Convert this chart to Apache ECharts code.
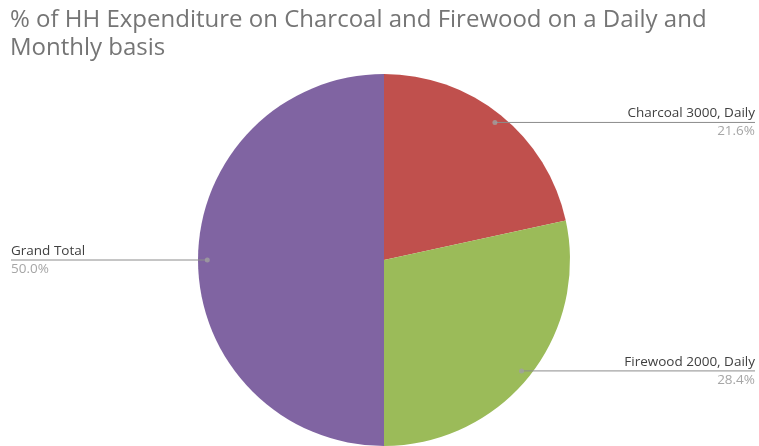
<!DOCTYPE html>
<html><head><meta charset="utf-8">
<script src="https://cdn.jsdelivr.net/npm/echarts@6/dist/echarts.min.js"></script>
<style>html,body{margin:0;padding:0;background:#fff}#c{width:759px;height:446px}</style>
</head><body><div id="c"></div>
<script>
const titleText = "% of HH Expenditure on Charcoal and Firewood on a Daily and\nMonthly basis";
const categories = ["Charcoal 3000, Daily", "Firewood 2000, Daily", "Grand Total"];
const percentValues = [21.6, 28.4, 50.0];
const sliceColors = ["#c0504d", "#9bbb59", "#8064a2"];

const CENTER = [384, 260];
const RADIUS = 186;
const DOT_R = 95; // percent of radius where the leader dot sits

const total = percentValues.reduce((a, b) => a + b, 0);
let cum = 0;
const midAngles = percentValues.map(v => { const m = cum + v / 2; cum += v; return m / total * 100; });

const pieData = categories.map((n, i) => ({ name: n, value: percentValues[i], itemStyle: { color: sliceColors[i] } }));

const chart = echarts.init(document.getElementById('c'), null, { renderer: 'canvas' });
chart.setOption({
  animation: false,
  backgroundColor: '#fff',
  title: {
    text: titleText, left: 5, top: 1,
    textStyle: { fontFamily: 'Open Sans', fontSize: 24, fontWeight: 'normal', color: '#757575', lineHeight: 28 }
  },
  polar: { center: CENTER, radius: RADIUS },
  angleAxis: { type: 'value', min: 0, max: 100, startAngle: 90, clockwise: true, show: false },
  radiusAxis: { type: 'value', min: 0, max: 100, show: false },
  series: [
    {
      type: 'pie', center: CENTER, radius: RADIUS, startAngle: 90, clockwise: true,
      silent: true, label: { show: false }, labelLine: { show: false },
      data: pieData
    },
    {
      type: 'pie', center: CENTER, radius: RADIUS * DOT_R / 100, startAngle: 90, clockwise: true,
      silent: true, z: 3,
      itemStyle: { color: 'rgba(0,0,0,0)' },
      data: categories.map((n, i) => ({ name: n, value: percentValues[i], label: { edgeDistance: i === 2 ? 11 : 4 } })),
      label: {
        show: true, position: 'outside', alignTo: 'edge', edgeDistance: 4,
        formatter: p => '{n|' + p.name + '}\n{p|' + p.value.toFixed(1) + '%}',
        rich: {
          n: { fontFamily: 'Open Sans', fontSize: 13.5, color: '#404040', lineHeight: 18 },
          p: { fontFamily: 'Open Sans', fontSize: 13.5, color: '#a6a6a6', lineHeight: 18 }
        }
      },
      labelLine: { show: true, length: 0.01, length2: 10, lineStyle: { color: '#8c8c8c', width: 1 } },
      labelLayout: function (params) {
        const pts = params.labelLinePoints;
        if (!pts) return {};
        const p0 = pts[0];
        const r = params.labelRect;
        const isLeft = r.x + r.width / 2 < CENTER[0];
        const endX = isLeft ? r.x : r.x + r.width;
        return { labelLinePoints: [[p0[0], p0[1]], [p0[0], p0[1]], [endX, p0[1]]] };
      }
    },
    {
      type: 'scatter', coordinateSystem: 'polar', silent: true, z: 5,
      symbol: 'circle', symbolSize: 5,
      itemStyle: { color: '#a0a0a0' },
      data: midAngles.map(a => [DOT_R, a])
    }
  ]
});
</script></body></html>
